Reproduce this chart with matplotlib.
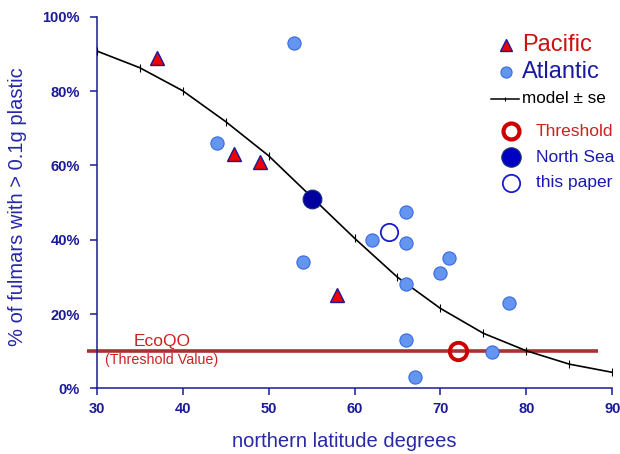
import matplotlib
matplotlib.use("Agg")
import matplotlib.pyplot as plt

plt.rcParams['font.family'] = ['Liberation Sans', 'DejaVu Sans']

# ---- data ----
pacific_lat = [37, 46, 49, 58]
pacific_pct = [89, 63, 61, 25]

atlantic_lat = [53, 44, 54, 62, 66, 66, 66, 66, 67, 70, 71, 78, 76]
atlantic_pct = [93, 66, 34, 40, 47.5, 39, 28, 13, 3, 31, 35, 23, 9.7]

northsea_lat = [55]
northsea_pct = [51]

thispaper_lat = [64]
thispaper_pct = [42]

threshold_lat = [72]
threshold_pct = [10]

model_lat = [30, 35, 40, 45, 50, 55, 60, 65, 70, 75, 80, 85, 90]
model_pct = [90.8, 86.3, 80.1, 71.8, 62.6, 51.5, 40.4, 29.9, 21.5, 14.8, 10.1, 6.5, 4.3]

ecoqo_value = 10
ecoqo_range = [28.9, 88.3]

xticks = [30, 40, 50, 60, 70, 80, 90]
yticks = [0, 20, 40, 60, 80, 100]
ytick_labels = ['0%', '20%', '40%', '60%', '80%', '100%']

# ---- colours ----
axis_col = '#1A1A9A'
label_col = '#2828A8'
atl_face = '#6495F0'
atl_edge = '#3A6AE0'
ns_col = '#0000A0'

fig = plt.figure(figsize=(6.2, 4.54), dpi=100)
ax = fig.add_axes([0.156, 0.1447, 0.8316, 0.8183])

ax.set_xlim(30, 90)
ax.set_ylim(0, 100)

# EcoQO line
ax.plot(ecoqo_range, [ecoqo_value, ecoqo_value], color='#A83232', lw=2.6,
        solid_capstyle='butt', clip_on=False, zorder=2)

# model curve
ax.plot(model_lat, model_pct, color='black', lw=1.2, zorder=3)
ax.plot(model_lat, model_pct, ls='none', marker='|', color='black', ms=6, mew=0.8, zorder=3)

# points
ax.plot(atlantic_lat, atlantic_pct, ls='none', marker='o', ms=9.5,
        mfc=atl_face, mec=atl_edge, mew=0.8, zorder=4)
ax.plot(pacific_lat, pacific_pct, ls='none', marker='^', ms=9.5,
        mfc='#EE0000', mec='#1A1A9A', mew=1.0, zorder=4)
ax.plot(northsea_lat, northsea_pct, ls='none', marker='o', ms=13.5,
        mfc=ns_col, mec='#1A2A80', mew=0.8, zorder=5)
ax.plot(thispaper_lat, thispaper_pct, ls='none', marker='o', ms=12.5,
        mfc='white', mec='#1A1AD0', mew=1.3, zorder=5)
ax.plot(threshold_lat, threshold_pct, ls='none', marker='o', ms=12.5,
        mfc='none', mec='#CC0000', mew=2.8, zorder=5)

# EcoQO text
ax.text(37.6, 12.5, 'EcoQO', color='#CC2222', fontsize=12.5, ha='center', va='center')
ax.text(37.6, 7.6, '(Threshold Value)', color='#CC2222', fontsize=10.3, ha='center', va='center')

# spines / ticks
for s in ['top', 'right']:
    ax.spines[s].set_visible(False)
for s in ['left', 'bottom']:
    ax.spines[s].set_color(axis_col)
    ax.spines[s].set_linewidth(1.1)
ax.set_xticks(xticks)
ax.set_yticks(yticks)
ax.set_yticklabels(ytick_labels)
ax.tick_params(axis='both', colors=axis_col, length=5, width=1.1, direction='out',
               labelsize=10.5)
ax.tick_params(axis='y', pad=7)
ax.tick_params(axis='x', pad=5)
for lbl in ax.get_xticklabels() + ax.get_yticklabels():
    lbl.set_fontweight('bold')
    lbl.set_color(axis_col)

ax.set_xlabel('northern latitude degrees', color=label_col, fontsize=14.5)
ax.set_ylabel('% of fulmars with > 0.1g plastic', color=label_col, fontsize=14.5)
ax.xaxis.label.set_va('center')
ax.yaxis.label.set_va('center')
ax.xaxis.set_label_coords(0.4806, -0.1437)
ax.yaxis.set_label_coords(-0.153, 0.49)

# ---- legend (manual, in figure pixel coordinates) ----
H = 454.0
W = 620.0
def fx(px):
    return px / W
def fy(py):
    return 1 - py / H

leg = fig.add_axes([0, 0, 1, 1], facecolor='none')
leg.set_xlim(0, 1)
leg.set_ylim(0, 1)
leg.axis('off')

leg.plot([fx(505.5)], [fy(45)], marker='^', ms=8, mfc='#EE0000', mec='#1A1A9A', mew=1.0, ls='none')
leg.text(fx(522), fy(45), 'Pacific', color='#CC1111', fontsize=17, va='center', ha='left')
leg.plot([fx(506)], [fy(72)], marker='o', ms=8, mfc=atl_face, mec=atl_edge, mew=0.8, ls='none')
leg.text(fx(522), fy(72), 'Atlantic', color='#1A1AA0', fontsize=17, va='center', ha='left')
leg.plot([fx(491), fx(519)], [fy(98.5), fy(98.5)], color='black', lw=1.1)
leg.plot([fx(505)], [fy(98.5)], marker='|', color='black', ms=3, mew=0.8)
leg.text(fx(522), fy(98.5), 'model ± se', color='black', fontsize=12.3, va='center', ha='left')

leg.plot([fx(511)], [fy(131)], marker='o', ms=11.5, mfc='none', mec='#CC0000', mew=3.0, ls='none')
leg.text(fx(536), fy(131), 'Threshold', color='#CC2222', fontsize=12.5, va='center', ha='left')
leg.plot([fx(511)], [fy(157)], marker='o', ms=14, mfc='#0000C0', mec='#1A3A70', mew=0.8, ls='none')
leg.text(fx(536), fy(157), 'North Sea', color='#1A1AB0', fontsize=12.5, va='center', ha='left')
leg.plot([fx(511)], [fy(183)], marker='o', ms=12.5, mfc='white', mec='#1A1AD0', mew=1.3, ls='none')
leg.text(fx(536), fy(183), 'this paper', color='#1A1AB0', fontsize=12.5, va='center', ha='left')

fig.savefig('out.png', dpi=100)
